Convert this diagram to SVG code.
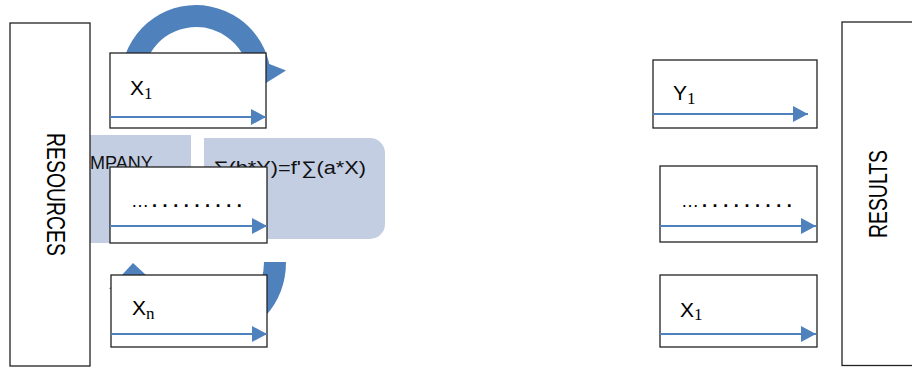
<svg xmlns="http://www.w3.org/2000/svg" width="912" height="367" viewBox="0 0 912 367">
<style>
.box{fill:#fff;stroke:#222;stroke-width:1.3}
.flow{stroke:#4F81BD;stroke-width:2;fill:none;marker-end:url(#ah)}
.band{fill:none;stroke:#4F81BD;stroke-width:22}
.head{fill:#4F81BD}
.panel{fill:#C3CEE3}
.lbl{font-family:"Liberation Sans",Arial,sans-serif;font-size:21px;fill:#000}
.sub{font-family:"Liberation Serif","Times New Roman",serif;font-size:17px;fill:#000}
.dots{font-family:"Liberation Sans",Arial,sans-serif;font-size:18px;fill:#000}
.big{font-family:"Liberation Sans",Arial,sans-serif;font-size:25px;fill:#000}
.pt{font-family:"Liberation Sans",Arial,sans-serif;font-size:18px;fill:#111}
</style>
<defs>
<marker id="ah" markerUnits="userSpaceOnUse" markerWidth="16" markerHeight="16" refX="15" refY="8" orient="auto">
<path d="M0,0 L15,8 L0,16 z" fill="#4F81BD"/>
</marker>
</defs>

<g id="cycle-arrows">
<path class="band" d="M134.2,96.6 A64,64 0 1 1 259.4,71.1"/>
<polygon class="head" points="244,54 286,70.5 258,88"/>
<path class="band" d="M275,262 A71,71 0 0 1 135.4,280.4"/>
<polygon class="head" points="133,263 109,289 159,287"/>
</g>

<g id="company">
<rect class="panel" x="60" y="135" width="131" height="108"/>
<text class="pt" x="90" y="169">MPANY</text>
</g>

<g id="formula">
<path class="panel" d="M204,138 H370 A15,15 0 0 1 385,153 V224 A15,15 0 0 1 370,239 H204 Z"/>
<text class="pt" x="213" y="174" font-size="20" textLength="153" lengthAdjust="spacingAndGlyphs">∑(b*Y)=f'∑(a*X)</text>
</g>

<g id="resources">
<rect class="box" x="10" y="23" width="80" height="343"/>
<text class="big" transform="translate(47,194.5) rotate(90)" text-anchor="middle" textLength="123" lengthAdjust="spacingAndGlyphs">RESOURCES</text>
</g>

<g id="results">
<rect class="box" x="842" y="22" width="80" height="343.5"/>
<text class="big" transform="translate(887,194) rotate(-90)" text-anchor="middle" textLength="88" lengthAdjust="spacingAndGlyphs">RESULTS</text>
</g>

<g id="in-x1">
<rect class="box" x="110" y="53" width="156" height="75"/>
<text class="lbl" x="130" y="95">X</text><text class="sub" x="144" y="99">1</text>
</g>
<g id="in-dots">
<rect class="box" x="110" y="167" width="157" height="76"/>
<text class="dots" x="131" y="207">…<tspan font-weight="bold" letter-spacing="5.6" dx="3">.........</tspan></text>
</g>
<g id="in-xn">
<rect class="box" x="111" y="275" width="156" height="72"/>
<text class="lbl" x="132" y="315">X</text><text class="sub" x="146" y="319">n</text>
</g>

<g id="out-y1">
<rect class="box" x="653" y="60" width="164" height="68"/>
<text class="lbl" x="673" y="100">Y</text><text class="sub" x="687" y="104">1</text>
</g>
<g id="out-dots">
<rect class="box" x="660" y="166" width="157" height="76"/>
<text class="dots" x="681" y="207">…<tspan font-weight="bold" letter-spacing="5.6" dx="3">.........</tspan></text>
</g>
<g id="out-x1">
<rect class="box" x="660" y="275" width="157" height="72"/>
<text class="lbl" x="680" y="317">X</text><text class="sub" x="694" y="320">1</text>
</g>

<g id="connectors">
<line class="flow" x1="110" y1="117" x2="266" y2="117"/>
<line class="flow" x1="110" y1="226" x2="267" y2="226"/>
<line class="flow" x1="111" y1="334" x2="267" y2="334"/>
<line class="flow" x1="653" y1="114" x2="808" y2="114"/>
<line class="flow" x1="660" y1="226" x2="816" y2="226"/>
<line class="flow" x1="660" y1="334" x2="816" y2="334"/>
</g>
</svg>
